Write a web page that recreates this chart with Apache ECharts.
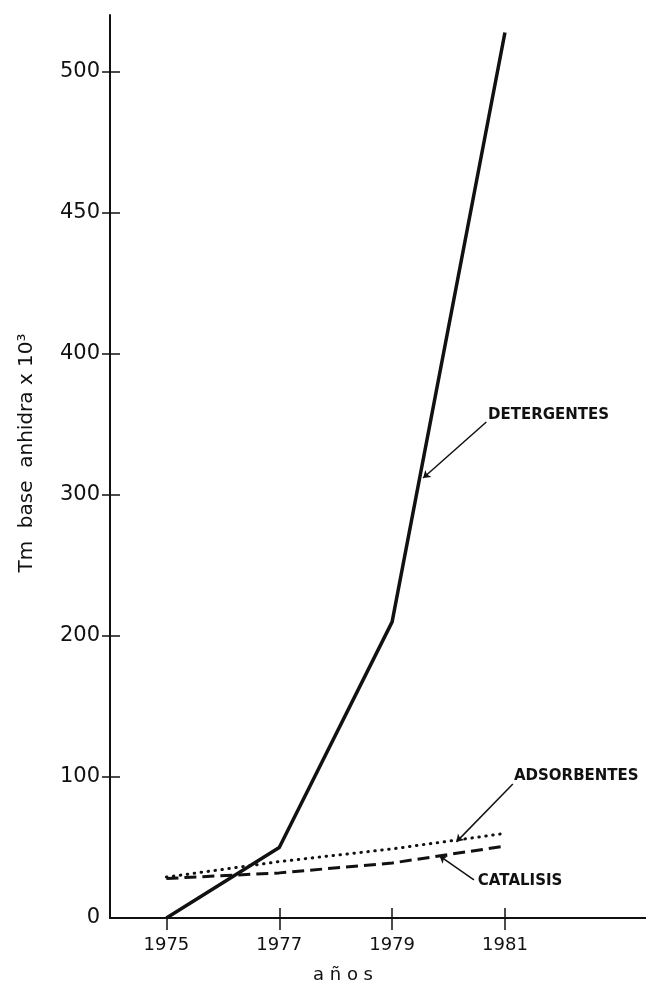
<!DOCTYPE html>
<html>
<head>
<meta charset="utf-8">
<style>
  html, body { margin: 0; padding: 0; background: #fff; }
  #chart { width: 646px; height: 986px; }
</style>
<script src="https://cdn.jsdelivr.net/npm/echarts@6/dist/echarts.min.js"></script>
</head>
<body>
<div id="chart"></div>
<script>
// Production by use, in tonnes (anhydrous basis) x 10^3
const years = [1975, 1977, 1979, 1981];
const detergentes = [0, 50, 210, 514];
const adsorbentes = [29, 40, 49, 60];
const catalisis = [28, 32, 39, 51];

// The vertical scale steps evenly through these labelled values
const yTickValues = [0, 100, 200, 300, 400, 450, 500];
const yTickLabels = ['0', '100', '200', '300', '400', '450', '500'];
const xTickValues = [1975, 1977, 1979, 1981];
const xTickLabels = ['1975', '1977', '1979', '1981'];

// Callout labels: [text, label anchor, leader start, arrow tip] as [year, value]
const calloutText = ['DETERGENTES', 'ADSORBENTES', 'CATALISIS'];
const calloutAnchor = [[1980.70, 357], [1981.16, 100.4], [1980.52, 26.2]];
const calloutFrom = [[1980.67, 351.8], [1981.14, 95], [1980.45, 27]];
const calloutTo = [[1979.55, 312], [1980.14, 54], [1979.84, 44]];

// Map a labelled value onto the evenly spaced tick positions
function toAxis(v) {
  const n = yTickValues.length;
  for (let i = 1; i < n; i++) {
    if (v <= yTickValues[i]) {
      return (i - 1) + (v - yTickValues[i - 1]) / (yTickValues[i] - yTickValues[i - 1]);
    }
  }
  return (n - 1) + (v - yTickValues[n - 1]) / (yTickValues[n - 1] - yTickValues[n - 2]);
}

const INK = '#111';
const tickIdx = yTickValues.map((_, i) => i);

function callout(i) {
  return {
    markLine: {
      silent: true,
      animation: false,
      symbolSize: 7,
      label: { show: false },
      lineStyle: { color: INK, width: 1.5, type: 'solid' },
      data: [[
        { coord: [calloutFrom[i][0], toAxis(calloutFrom[i][1])], symbol: 'none' },
        { coord: [calloutTo[i][0], toAxis(calloutTo[i][1])], symbol: 'arrow' }
      ]]
    },
    markPoint: {
      silent: true,
      animation: false,
      data: [{
        coord: [calloutAnchor[i][0], toAxis(calloutAnchor[i][1])],
        symbol: 'circle',
        symbolSize: 0,
        itemStyle: { color: 'transparent' },
        label: {
          show: true,
          position: 'right',
          distance: 0,
          formatter: calloutText[i],
          color: INK,
          fontFamily: 'DejaVu Sans',
          fontWeight: 'bold',
          fontSize: 15
        }
      }]
    }
  };
}

function lineSeries(name, values, style, i) {
  return Object.assign({
    name: name,
    type: 'line',
    xAxisIndex: 0,
    yAxisIndex: 0,
    symbol: 'none',
    silent: true,
    lineStyle: style,
    data: years.map((y, k) => [y, toAxis(values[k])])
  }, callout(i));
}

const chart = echarts.init(document.getElementById('chart'), null, { renderer: 'canvas' });

chart.setOption({
  animation: false,
  backgroundColor: '#fff',
  grid: { left: 110, right: 0, top: 15, bottom: 68, containLabel: false },
  xAxis: [
    {
      type: 'value',
      min: 1974,
      max: 1983.5,
      position: 'bottom',
      splitLine: { show: false },
      axisLine: { show: true, lineStyle: { color: INK, width: 2 } },
      axisTick: { show: true, inside: false, length: 12, customValues: xTickValues, lineStyle: { color: INK, width: 1.5 } },
      axisLabel: {
        customValues: xTickValues,
        formatter: v => xTickLabels[xTickValues.indexOf(v)],
        margin: 18,
        color: INK,
        fontFamily: 'DejaVu Sans',
        fontSize: 18
      }
    },
    {
      type: 'value',
      min: 1974,
      max: 1983.5,
      position: 'bottom',
      splitLine: { show: false },
      axisLine: { show: false },
      axisTick: { show: true, inside: true, length: 10, customValues: xTickValues.slice(1), lineStyle: { color: INK, width: 1.5 } },
      axisLabel: { show: false }
    }
  ],
  yAxis: [
    {
      type: 'value',
      min: 0,
      max: 6.404,
      position: 'left',
      splitLine: { show: false },
      axisLine: { show: true, lineStyle: { color: INK, width: 2 } },
      axisTick: { show: true, inside: true, length: 10, customValues: tickIdx.slice(1), lineStyle: { color: INK, width: 1.5 } },
      axisLabel: {
        customValues: tickIdx,
        formatter: v => yTickLabels[Math.round(v)],
        margin: 10,
        color: INK,
        fontFamily: 'DejaVu Sans',
        fontSize: 21
      }
    },
    {
      type: 'value',
      min: 0,
      max: 6.404,
      position: 'left',
      splitLine: { show: false },
      axisLine: { show: false },
      axisTick: { show: true, inside: false, length: 8, customValues: tickIdx.slice(1), lineStyle: { color: INK, width: 1.5 } },
      axisLabel: { show: false }
    }
  ],
  graphic: [
    {
      type: 'text',
      x: 27,
      y: 453,
      rotation: Math.PI / 2,
      style: {
        text: 'Tm  base  anhidra x 10³',
        fill: INK,
        font: '20px "DejaVu Sans"',
        align: 'center',
        verticalAlign: 'middle'
      }
    },
    {
      type: 'text',
      x: 343,
      y: 975,
      style: {
        text: 'a ñ o s',
        fill: INK,
        font: '18px "DejaVu Sans"',
        align: 'center',
        verticalAlign: 'middle'
      }
    }
  ],
  series: [
    lineSeries('DETERGENTES', detergentes, { color: INK, width: 3.5, type: 'solid', join: 'round' }, 0),
    lineSeries('ADSORBENTES', adsorbentes, { color: INK, width: 3, type: [0.5, 6.5], cap: 'round' }, 1),
    lineSeries('CATALISIS', catalisis, { color: INK, width: 3, type: [12, 6], cap: 'butt' }, 2)
  ]
});
</script>
</body>
</html>
